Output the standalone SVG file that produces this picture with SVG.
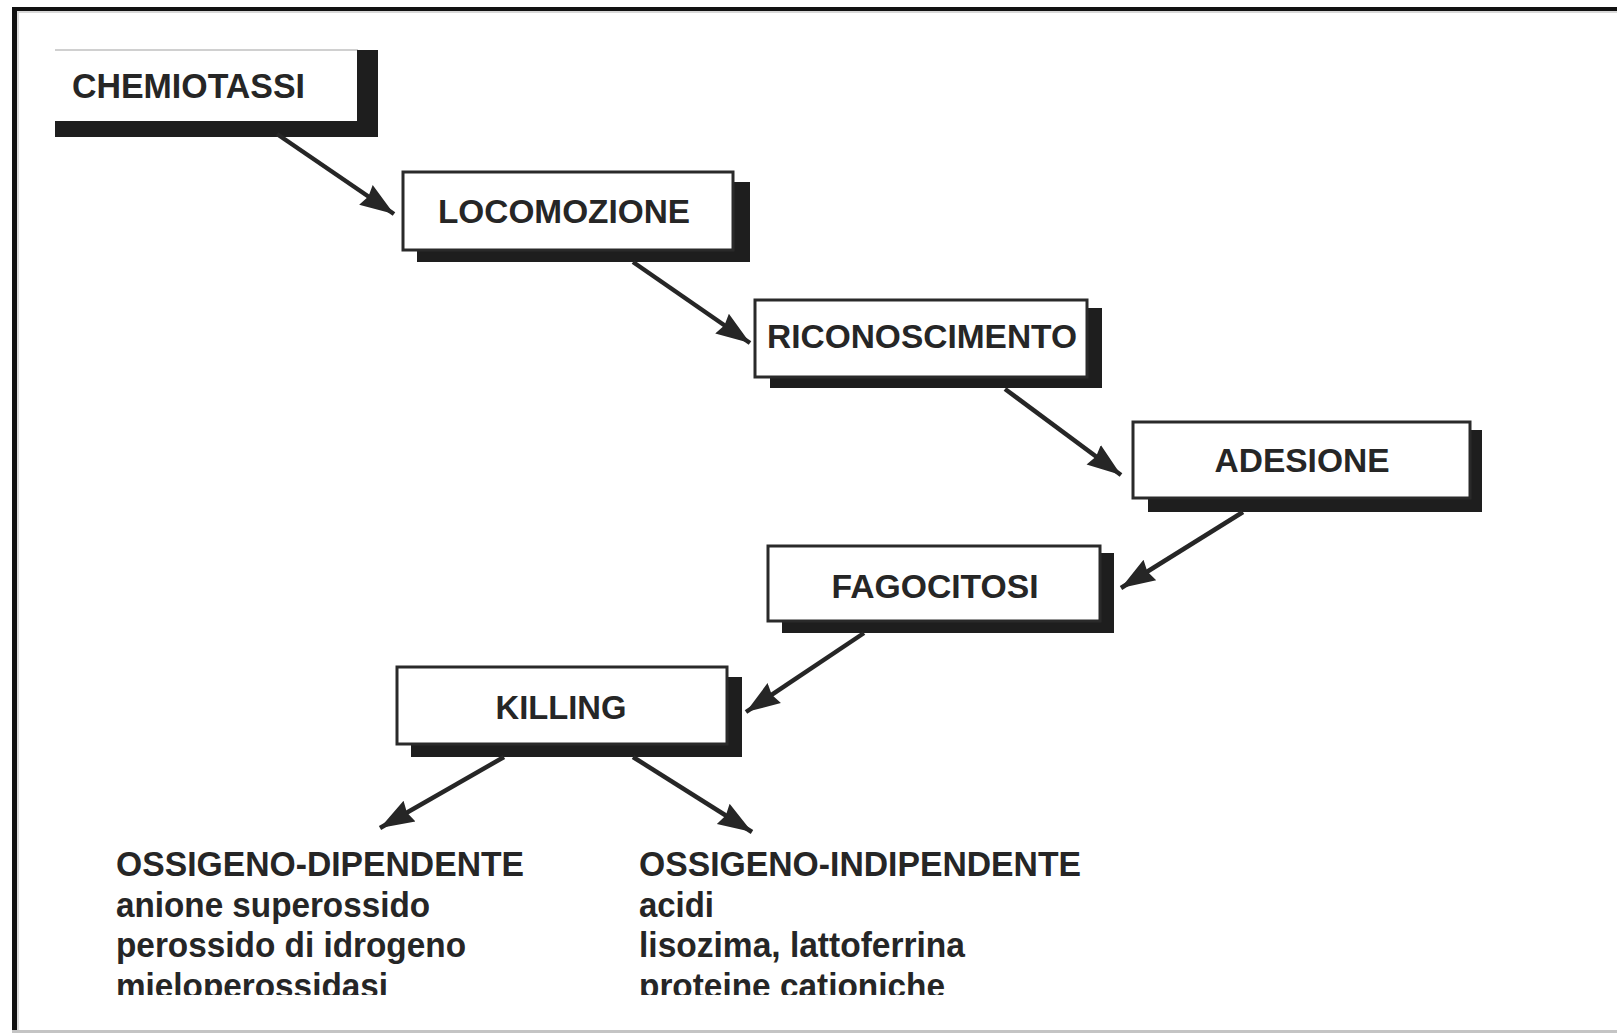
<svg xmlns="http://www.w3.org/2000/svg" width="1617" height="1033" viewBox="0 0 1617 1033">
  <style>
    .shadow { fill: #1e1e1e; }
    .box { fill: #ffffff; stroke: #2a2a2a; stroke-width: 3; }
    .lbl { font-family: "Liberation Sans", Arial, Helvetica, sans-serif; font-weight: bold; font-size: 34px; fill: #262626; text-anchor: middle; }
    .txt { font-family: "Liberation Sans", Arial, Helvetica, sans-serif; font-weight: bold; font-size: 35px; fill: #262626; }
    .arrow { stroke: #262626; stroke-width: 4.5; fill: none; marker-end: url(#head); }
  </style>
  <defs>
    <marker id="head" markerUnits="userSpaceOnUse" markerWidth="36" markerHeight="28" viewBox="0 0 36 28" refX="34" refY="14" orient="auto">
      <path d="M0,2 L34,14 L0,26 L3,14 Z" fill="#262626"/>
    </marker>
    <clipPath id="cut">
      <rect x="0" y="0" width="1617" height="995"/>
    </clipPath>
  </defs>

  <rect x="0" y="0" width="1617" height="1033" fill="#ffffff"/>

  <!-- frame -->
  <g id="frame">
    <rect x="12" y="7" width="1605" height="4" fill="#111111"/>
    <rect x="12" y="11" width="1605" height="2" fill="#d8d8d8"/>
    <rect x="12" y="7" width="5" height="1024" fill="#111111"/>
    <rect x="17" y="13" width="2" height="1018" fill="#dcdcdc"/>
    <rect x="12" y="1030" width="1605" height="3" fill="#c4c4c4"/>
  </g>

  <!-- nodes -->
  <g id="chemiotassi">
    <rect x="55" y="49" width="303" height="2" fill="#d0d0d0"/>
    <rect class="shadow" x="55" y="121" width="323" height="16"/>
    <rect class="shadow" x="357" y="50" width="21" height="87"/>
    <text class="txt" x="72" y="98" font-size="34" textLength="233" lengthAdjust="spacingAndGlyphs">CHEMIOTASSI</text>
  </g>

  <g id="locomozione">
    <rect class="shadow" x="417" y="182" width="333" height="80"/>
    <rect class="box" x="403" y="172" width="330" height="78"/>
    <text class="lbl" x="564" y="223" textLength="252" lengthAdjust="spacingAndGlyphs">LOCOMOZIONE</text>
  </g>

  <g id="riconoscimento">
    <rect class="shadow" x="770" y="308" width="332" height="80"/>
    <rect class="box" x="755" y="300" width="332" height="77"/>
    <text class="lbl" x="922" y="348" textLength="310" lengthAdjust="spacingAndGlyphs">RICONOSCIMENTO</text>
  </g>

  <g id="adesione">
    <rect class="shadow" x="1148" y="430" width="334" height="82"/>
    <rect class="box" x="1133" y="422" width="337" height="76"/>
    <text class="lbl" x="1302" y="472" textLength="175" lengthAdjust="spacingAndGlyphs">ADESIONE</text>
  </g>

  <g id="fagocitosi">
    <rect class="shadow" x="782" y="553" width="332" height="80"/>
    <rect class="box" x="768" y="546" width="332" height="75"/>
    <text class="lbl" x="935" y="598" textLength="207" lengthAdjust="spacingAndGlyphs">FAGOCITOSI</text>
  </g>

  <g id="killing">
    <rect class="shadow" x="411" y="677" width="331" height="80"/>
    <rect class="box" x="397" y="667" width="330" height="77"/>
    <text class="lbl" x="561" y="719" textLength="131" lengthAdjust="spacingAndGlyphs">KILLING</text>
  </g>

  <g id="ossigeno-dipendente" clip-path="url(#cut)">
    <text class="txt" x="116" y="876" textLength="408" lengthAdjust="spacingAndGlyphs">OSSIGENO-DIPENDENTE</text>
    <text class="txt" x="116" y="917" textLength="314" lengthAdjust="spacingAndGlyphs">anione superossido</text>
    <text class="txt" x="116" y="957" textLength="350" lengthAdjust="spacingAndGlyphs">perossido di idrogeno</text>
    <text class="txt" x="116" y="998" textLength="272" lengthAdjust="spacingAndGlyphs">mieloperossidasi</text>
  </g>

  <g id="ossigeno-indipendente" clip-path="url(#cut)">
    <text class="txt" x="639" y="876" textLength="442" lengthAdjust="spacingAndGlyphs">OSSIGENO-INDIPENDENTE</text>
    <text class="txt" x="639" y="917" textLength="75" lengthAdjust="spacingAndGlyphs">acidi</text>
    <text class="txt" x="639" y="957" textLength="326" lengthAdjust="spacingAndGlyphs">lisozima, lattoferrina</text>
    <text class="txt" x="639" y="998" textLength="306" lengthAdjust="spacingAndGlyphs">proteine cationiche</text>
  </g>

  <!-- connectors -->
  <g id="connectors">
    <line class="arrow" x1="277" y1="134" x2="394" y2="214"/>
    <line class="arrow" x1="633" y1="262" x2="750" y2="343"/>
    <line class="arrow" x1="1005" y1="389" x2="1121" y2="475"/>
    <line class="arrow" x1="1243" y1="512" x2="1121" y2="588"/>
    <line class="arrow" x1="864" y1="633" x2="746" y2="712"/>
    <line class="arrow" x1="504" y1="757" x2="380" y2="828"/>
    <line class="arrow" x1="633" y1="757" x2="752" y2="832"/>
  </g>
</svg>
